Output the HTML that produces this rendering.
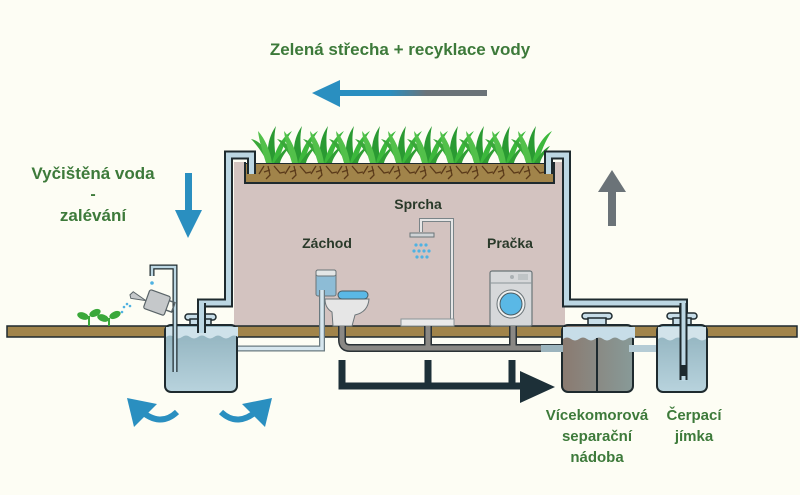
<!DOCTYPE html>
<html><head><meta charset="utf-8"><style>
html,body{margin:0;padding:0;background:#fdfdf4;}
svg{display:block}
text{font-family:"Liberation Sans",sans-serif;font-weight:bold;}
</style></head><body>
<svg width="800" height="495" viewBox="0 0 800 495" xmlns="http://www.w3.org/2000/svg">
<defs>
<linearGradient id="ga" x1="0" x2="1"><stop offset="0" stop-color="#2a8fc0"/><stop offset="0.35" stop-color="#2a8fc0"/><stop offset="0.6" stop-color="#6b7378"/><stop offset="1" stop-color="#6b7378"/></linearGradient>
<linearGradient id="wat" x1="0" y1="0" x2="0" y2="1"><stop offset="0" stop-color="#8fb1bd"/><stop offset="1" stop-color="#b8d3dd"/></linearGradient>
<linearGradient id="sep" x1="0" x2="1"><stop offset="0" stop-color="#8a7a70"/><stop offset="1" stop-color="#889a98"/></linearGradient>
<g id="gr">
<path d="M-2 37 C-8 26 -14 18 -19 13 C-9 15 -4 24 2 37 Z" fill="#3aa83a"/>
<path d="M-1 37 C-4 22 -1 10 6 0 C3 12 5 24 6 37 Z" fill="#2a9a32"/>
<path d="M2 37 C6 22 13 10 22 5 C15 15 11 26 8 37 Z" fill="#3cb83c"/>
<path d="M-4 37 C-8 24 -11 14 -12 5 C-5 13 0 24 2 37 Z" fill="#52c04a"/>
<path d="M4 37 C10 28 15 22 20 20 C15 27 11 32 10 37 Z" fill="#2f9e34"/>
<path d="M-6 40 l-5 8 M-2 40 l2 9 l-4 4 M4 40 l6 7 l5 -1 M0 44 l-6 2" stroke="#5a3a1a" stroke-width="1.3" fill="none"/>
</g>
</defs>

<text x="400" y="55" font-size="17" fill="#3d7a3a" text-anchor="middle">Zelená střecha + recyklace vody</text>
<rect x="336" y="90" width="151" height="6" fill="url(#ga)"/>
<polygon points="312,93 340,80 340,107" fill="#2a8fc0"/>

<text x="93" y="179" font-size="17" fill="#3d7a3a" text-anchor="middle">Vyčištěná voda</text>
<text x="93" y="199" font-size="16" fill="#3d7a3a" text-anchor="middle">-</text>
<text x="93" y="221" font-size="17" fill="#3d7a3a" text-anchor="middle">zalévání</text>
<rect x="185" y="173" width="7" height="40" fill="#2a8fc0"/>
<polygon points="175,210 202,210 188,238" fill="#2a8fc0"/>

<rect x="608" y="190" width="8" height="36" fill="#6b7378"/>
<polygon points="598,192 626,192 612,170" fill="#6b7378"/>

<rect x="234" y="162" width="331" height="164" fill="#d3c3c0"/>
<rect x="245" y="163" width="309" height="20" fill="#a1844a" stroke="#1e2a2e" stroke-width="2"/>
<rect x="246" y="160" width="307" height="3" fill="#fdfdf4"/>
<g>
<use href="#gr" x="270" y="126"/><use href="#gr" x="296" y="126"/><use href="#gr" x="322" y="126"/><use href="#gr" x="348" y="126"/><use href="#gr" x="374" y="126"/><use href="#gr" x="400" y="126"/><use href="#gr" x="426" y="126"/><use href="#gr" x="452" y="126"/><use href="#gr" x="478" y="126"/><use href="#gr" x="504" y="126"/><use href="#gr" x="530" y="126"/>
</g>

<rect x="7" y="326" width="790" height="11" fill="#a1844a" stroke="#1e2a2e" stroke-width="1.5"/>

<path d="M251.5 174 V155 H228.5 V303 H201.5 V322" fill="none" stroke="#1e2a2e" stroke-width="9"/>
<path d="M251.5 174 V155 H228.5 V303 H201.5 V322" fill="none" stroke="#bcd7e3" stroke-width="5"/>
<path d="M548.5 174 V155 H566.5 V303 H683.5 V380" fill="none" stroke="#1e2a2e" stroke-width="9"/>
<path d="M548.5 174 V155 H566.5 V303 H683.5 V380" fill="none" stroke="#bcd7e3" stroke-width="5"/>

<text x="418" y="209" font-size="14" fill="#2a3a2a" text-anchor="middle">Sprcha</text>
<text x="327" y="248" font-size="14" fill="#2a3a2a" text-anchor="middle">Záchod</text>
<text x="510" y="248" font-size="14" fill="#2a3a2a" text-anchor="middle">Pračka</text>

<path d="M421 232 V220 H452 V320" fill="none" stroke="#7a8488" stroke-width="4"/>
<path d="M421 232 V220 H452 V320" fill="none" stroke="#e6e6e6" stroke-width="2"/>
<rect x="410" y="233" width="24" height="4" fill="#cfd3d6" stroke="#6a7478" stroke-width="1"/>
<g fill="#4fb2e2"><circle cx="416" cy="245" r="1.6"/><circle cx="421" cy="245" r="1.6"/><circle cx="426" cy="245" r="1.6"/><circle cx="414" cy="251" r="1.6"/><circle cx="419" cy="251" r="1.6"/><circle cx="424" cy="251" r="1.6"/><circle cx="429" cy="251" r="1.6"/><circle cx="417" cy="257" r="1.6"/><circle cx="422" cy="257" r="1.6"/><circle cx="427" cy="257" r="1.6"/></g>
<rect x="401" y="319" width="53" height="7" fill="#eaeaea" stroke="#8a9498" stroke-width="1"/>

<rect x="490" y="271" width="42" height="55" rx="2" fill="#d6d8da" stroke="#6a7478" stroke-width="1.2"/>
<line x1="490" y1="283" x2="532" y2="283" stroke="#8a9498" stroke-width="1"/>
<circle cx="511" cy="304" r="14" fill="#eef0f0" stroke="#6a7478" stroke-width="1"/>
<circle cx="511" cy="304" r="11" fill="#5ab8e6" stroke="#4a5a60" stroke-width="1"/>
<rect x="518" y="274" width="10" height="6" fill="#bfc4c6"/><circle cx="512" cy="277" r="2" fill="#aab0b3"/>

<rect x="316" y="270" width="20" height="26" rx="2" fill="#8dbcd6" stroke="#6a7478" stroke-width="1"/>
<rect x="316" y="270" width="20" height="6" rx="2" fill="#e3e6e6" stroke="#6a7478" stroke-width="1"/>
<path d="M325 299 H369 Q368 312 355 315 L352 326 H333 L332 312 Q325 308 325 299 Z" fill="#e6e6e6" stroke="#6a7478" stroke-width="1"/>
<rect x="338" y="291" width="30" height="8" rx="4" fill="#5ab8e6" stroke="#4a5a60" stroke-width="1"/>

<path d="M322 290 V348.5 H236" fill="none" stroke="#6a7a80" stroke-width="6"/>
<path d="M322 290 V348.5 H236" fill="none" stroke="#d6e6ee" stroke-width="3.5"/>

<path d="M342 326 V340 Q342 348 350 348 H565 M428 326 V348 M513 326 V348" fill="none" stroke="#2a3236" stroke-width="8"/>
<path d="M342 326 V340 Q342 348 350 348 H565 M428 326 V348 M513 326 V348" fill="none" stroke="#8a8884" stroke-width="5"/>

<path d="M342 360 V386 H525 M428 360 V386 M512 360 V386" fill="none" stroke="#1d3038" stroke-width="7"/>
<polygon points="520,371 555,387 520,403" fill="#1d3038"/>

<rect x="185" y="314" width="31" height="6" rx="3" fill="#c7dde8" stroke="#1e2a2e" stroke-width="1.5"/>
<rect x="190" y="319" width="21" height="8" fill="#c7dde8" stroke="#1e2a2e" stroke-width="1.5"/>
<rect x="165" y="325" width="72" height="67" rx="6" fill="url(#wat)" stroke="#1e2a2e" stroke-width="2"/>
<path d="M166 337 q4 -3 8 0 t8 0 t8 0 t8 0 t8 0 t8 0 t8 0 t8 0 t8 0 V327 H166 Z" fill="#cfe2ea"/>
<path d="M201.5 303 V333" stroke="#1e2a2e" stroke-width="9" fill="none"/><path d="M201.5 303 V333" stroke="#bcd7e3" stroke-width="5" fill="none"/>
<path d="M152 276 V267 H175 V372" fill="none" stroke="#1e2a2e" stroke-width="5"/>
<path d="M152 276 V267 H175 V372" fill="none" stroke="#bcd7e3" stroke-width="2.5"/>
<circle cx="152" cy="283" r="1.8" fill="#4fb2e2"/>
<g transform="rotate(20 155 305)">
<rect x="145" y="292" width="22" height="20" rx="2" fill="#c5c8ca" stroke="#5a6468" stroke-width="1.2"/>
<path d="M167 296 h6 v10 h-6" fill="none" stroke="#5a6468" stroke-width="1.5"/>
<path d="M145 304 L130 300 l-2 4 l2 3 Z" fill="#c5c8ca" stroke="#5a6468" stroke-width="1"/>
</g>
<g fill="#4fb2e2"><circle cx="124" cy="307" r="1.3"/><circle cx="127" cy="304" r="1.3"/><circle cx="122" cy="312" r="1.3"/><circle cx="130" cy="306" r="1.3"/></g>
<g fill="#3aa83a">
<ellipse cx="83" cy="316" rx="6" ry="3.5" transform="rotate(20 83 316)"/><ellipse cx="95" cy="313" rx="6" ry="3.5" transform="rotate(-25 95 313)"/>
<ellipse cx="103" cy="318" rx="6" ry="3.5" transform="rotate(20 103 318)"/><ellipse cx="115" cy="315" rx="6" ry="3.5" transform="rotate(-25 115 315)"/>
<rect x="88" y="316" width="2" height="10"/><rect x="108" y="318" width="2" height="8"/>
</g>

<rect x="582" y="313" width="30" height="6" rx="3" fill="#c7dde8" stroke="#1e2a2e" stroke-width="1.5"/>
<rect x="588" y="318" width="18" height="8" fill="#c7dde8" stroke="#1e2a2e" stroke-width="1.5"/>
<rect x="562" y="325" width="71" height="67" rx="6" fill="url(#sep)" stroke="#1e2a2e" stroke-width="2"/>
<path d="M563 339 q4 -3 8 0 t8 0 t8 0 t8 0 t8 0 t8 0 t8 0 t8 0 t8 0 V327 H563 Z" fill="#c7dde8"/>
<line x1="597" y1="338" x2="597" y2="391" stroke="#1e2a2e" stroke-width="2"/>
<rect x="541" y="345" width="22" height="7" fill="#9cb4bd"/>
<rect x="629" y="345" width="30" height="7" fill="#b5ccd5"/>
<rect x="667" y="313" width="30" height="6" rx="3" fill="#c7dde8" stroke="#1e2a2e" stroke-width="1.5"/>
<rect x="673" y="318" width="18" height="8" fill="#c7dde8" stroke="#1e2a2e" stroke-width="1.5"/>
<rect x="657" y="325" width="50" height="67" rx="6" fill="url(#wat)" stroke="#1e2a2e" stroke-width="2"/>
<path d="M658 339 q4 -3 8 0 t8 0 t8 0 t8 0 t8 0 t8 0 V327 H658 Z" fill="#d2e3ea"/>
<path d="M683.5 303 V380" fill="none" stroke="#1e2a2e" stroke-width="8"/>
<path d="M683.5 303 V365" fill="none" stroke="#bcd7e3" stroke-width="4"/>
<rect x="681.5" y="376" width="4" height="5" fill="#bcd7e3"/>

<path d="M177 412 Q160 428 140 410" fill="none" stroke="#2a8fc0" stroke-width="6"/>
<polygon points="127,398 157,404 134,427" fill="#2a8fc0"/>
<path d="M221 412 Q238 428 258 410" fill="none" stroke="#2a8fc0" stroke-width="6"/>
<polygon points="272,398 242,404 265,427" fill="#2a8fc0"/>

<text x="597" y="420" font-size="15" fill="#3d7a3a" text-anchor="middle">Vícekomorová</text>
<text x="597" y="441" font-size="15" fill="#3d7a3a" text-anchor="middle">separační</text>
<text x="597" y="462" font-size="15" fill="#3d7a3a" text-anchor="middle">nádoba</text>
<text x="694" y="420" font-size="15" fill="#3d7a3a" text-anchor="middle">Čerpací</text>
<text x="694" y="441" font-size="15" fill="#3d7a3a" text-anchor="middle">jímka</text>
</svg>
</body></html>
